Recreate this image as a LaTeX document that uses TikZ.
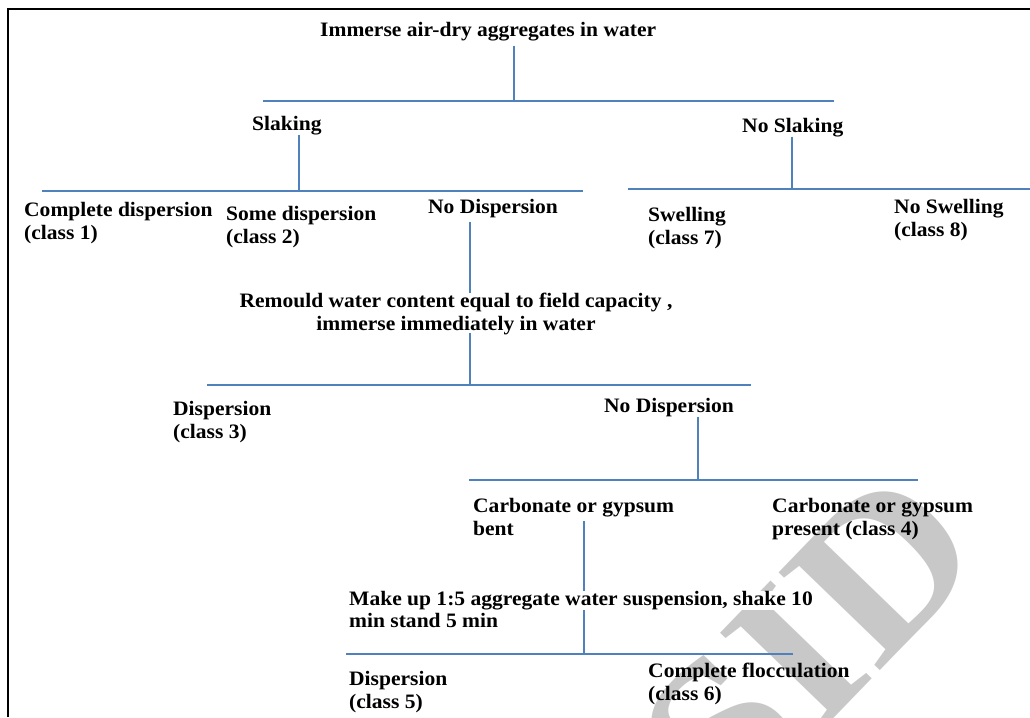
\documentclass[tikz,border=0pt]{standalone}
\usepackage{fontspec}
\setmainfont{Liberation Serif}[FakeStretch=1.05]
\usetikzlibrary{calc}
\definecolor{blueline}{RGB}{79,129,189}
\definecolor{wmgray}{RGB}{200,200,200}
\begin{document}
\begin{tikzpicture}[x=1pt,y=-1pt,
  lbl/.style={font=\bfseries\fontsize{20.5}{22.5}\selectfont, inner sep=0pt, anchor=base west, align=left},
  conn/.style={draw=blueline, line width=1.3pt},
  frame/.style={draw=black, line width=2.8pt}]
\useasboundingbox (0,0) rectangle (1030,717);
% watermark
\node[text=wmgray, font=\bfseries\fontsize{215}{215}\selectfont, rotate=46, inner sep=0pt] (wm) at (810,643) {SID};
% frame
\draw[frame] (8,717) -- (8,9) -- (1030,9);
% junction coordinates
\coordinate (h1a) at (263,101); \coordinate (h1b) at (834,101); \coordinate (j1) at (514,101);
\coordinate (h2a) at (42,191);  \coordinate (h2b) at (583,191); \coordinate (j2) at (299,191);
\coordinate (h3a) at (628,189); \coordinate (h3b) at (1030,189); \coordinate (j3) at (792,189);
\coordinate (h4a) at (207,385); \coordinate (h4b) at (751,385); \coordinate (j4) at (470,385);
\coordinate (h5a) at (469,480); \coordinate (h5b) at (918,480); \coordinate (j5) at (698,480);
\coordinate (h6a) at (346,654); \coordinate (h6b) at (793,654); \coordinate (j6) at (584,654);
% labels (base = baseline of last line)
\node[lbl] (t0) at (320,37) {Immerse air-dry aggregates in water};
\node[lbl] (sl) at (252,130) {Slaking};
\node[lbl] (nsl) at (742,132) {No Slaking};
\node[lbl] (c1) at (24,239) {Complete dispersion\\(class 1)};
\node[lbl] (c2) at (226,243) {Some dispersion\\(class 2)};
\node[lbl] (nd1) at (428,213) {No Dispersion};
\node[lbl] (sw) at (648,244) {Swelling\\(class 7)};
\node[lbl] (nsw) at (894,236) {No Swelling\\(class 8)};
\node[lbl, anchor=base, align=center] (rem) at (456,330) {Remould water content equal to field capacity ,\\immerse immediately in water};
\node[lbl] (c3) at (173,438) {Dispersion\\(class 3)};
\node[lbl] (nd2) at (604,412) {No Dispersion};
\node[lbl] (cb) at (473,535) {Carbonate or gypsum\\bent};
\node[lbl] (c4) at (772,535) {Carbonate or gypsum\\present (class 4)};
\node[lbl] (c5) at (349,708) {Dispersion\\(class 5)};
\node[lbl] (c6) at (648,700) {Complete flocculation\\(class 6)};
% connectors
\draw[conn] (h1a) -- (h1b);
\draw[conn] ($(t0.south -| j1)+(0,4)$) -- (j1);
\draw[conn] (h2a) -- (h2b);
\draw[conn] (h3a) -- (h3b);
\draw[conn] (sl.south -| j2) -- (j2);
\draw[conn] (nsl.south -| j3) -- (j3);
\draw[conn] ($(nd1.south -| j4)+(0,4)$) -- (rem.north -| j4);
\draw[conn] ($(rem.south -| j4)+(0,-2)$) -- (j4);
\draw[conn] (h4a) -- (h4b);
\draw[conn] (nd2.south -| j5) -- (j5);
\draw[conn] (h5a) -- (h5b);
\draw[conn] ($(h5a -| j6)+(0,41)$) -- (j6);
\draw[conn] (h6a) -- (h6b);
% text drawn over the vertical line
\node[lbl, fill=white] (mk1) at (349,605) {Make up 1:5 aggregate water suspension, shake 10};
\node[lbl] (mk2) at (349,627) {min stand 5 min};
\end{tikzpicture}
\end{document}
